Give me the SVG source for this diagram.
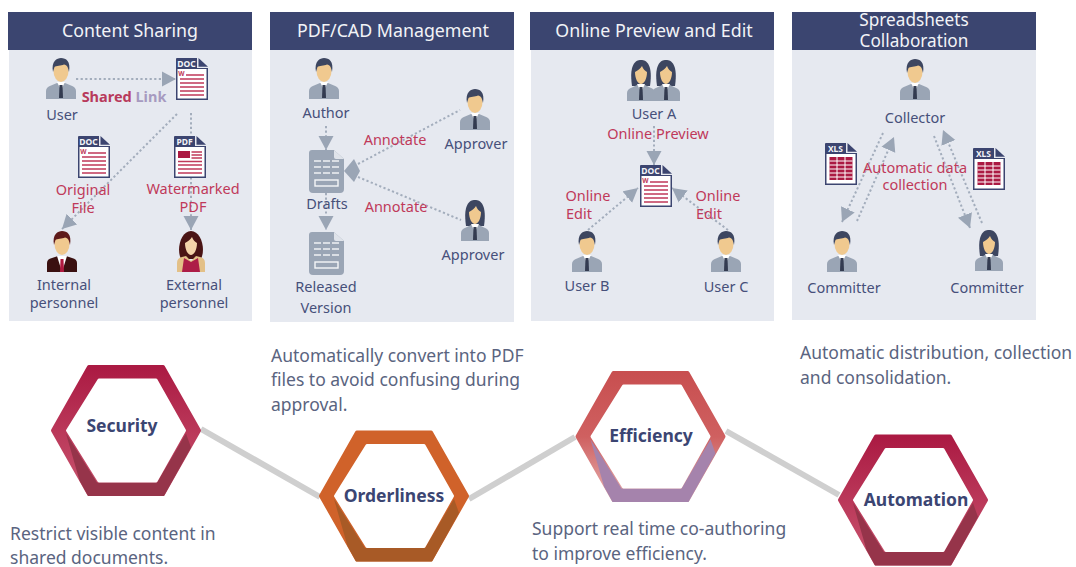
<svg xmlns="http://www.w3.org/2000/svg" width="1076" height="567" viewBox="0 0 1076 567">
<style>
text{font-family:"Noto Sans","Open Sans","Liberation Sans",sans-serif;text-anchor:middle}
.panel{fill:#e6e9f0}
.head{fill:#3b4570}
.title{fill:#f2f3f7;font-size:17.8px}
.title2{fill:#f2f3f7;font-size:17.2px}
.lab{fill:#47507a;font-size:14.5px}
.red{fill:#c0395a;font-size:14.5px}
.desc{fill:#5a6480;font-size:17.5px;text-anchor:start}
.hexlab{fill:#3b4572;font-size:17.5px;font-weight:700}
.dot{fill:none;stroke:#a3adbc;stroke-width:2;stroke-dasharray:2.2 2.4}
.link{fill:none;stroke:#cfcfcf;stroke-width:6}
.ic{font-size:8.5px;font-weight:700;fill:#f2f3f7}
.rl{stroke:#c0395a;stroke-width:1.4}
.hx{stroke-linejoin:round;stroke-width:4}
.hole{fill:#fff;stroke:#fff;stroke-width:3;stroke-linejoin:round}
</style>
<defs>
<marker id="arr" markerUnits="userSpaceOnUse" markerWidth="15" markerHeight="16" refX="14" refY="8" orient="auto"><path d="M0,0.5 L14,8 L0,15.5 Z" fill="#9aa5b5"/></marker>
<linearGradient id="gSec" x1="0" y1="0" x2="0" y2="1"><stop offset="0" stop-color="#ab1a43"/><stop offset="1" stop-color="#c9556f"/></linearGradient>
<linearGradient id="gEff" x1="0" y1="0" x2="0" y2="1"><stop offset="0" stop-color="#c84f50"/><stop offset="0.5" stop-color="#cf6060"/><stop offset="1" stop-color="#e6b0b0"/></linearGradient>
<g id="man">
<path d="M-15,41 V33 Q-15,29 -10,27.5 L-4,25 H4 L10,27.5 Q15,29 15,33 V41 Z" fill="#9aa5b5"/>
<path d="M-4,24 L0,32 L4,24 Z" fill="#fff"/>
<path d="M-1.5,27 H1.5 L2,40 H-2 Z" fill="#333b50"/>
<ellipse cx="0" cy="13" rx="7.5" ry="11" fill="#f0c98f"/>
<path d="M-8,14 C-10,3 -4,0 0,0 C5,0 10,3 8,14 C7,9 6,7 3,6.5 C0,8 -5,7.5 -6.5,9 Z" fill="#3d4660"/>
</g>
<g id="manRed">
<path d="M-15,41 V32 Q-15,28 -10,27 L-4,25 H4 L10,27 Q15,28 15,32 V41 Z" fill="#3a1010"/>
<path d="M-5,25 L0,41 L5,25 Z" fill="#fff"/>
<path d="M-1.5,28 H1.5 L2,41 H-2 Z" fill="#b0193f"/>
<ellipse cx="0" cy="13" rx="7.5" ry="11" fill="#f0c98f"/>
<path d="M-8,14 C-10,3 -4,0 0,0 C5,0 10,3 8,14 C7,9 6,7 3,6.5 C0,8 -5,7.5 -6.5,9 Z" fill="#5e1a1a"/>
</g>
<g id="woman">
<path d="M-9,26 C-12,5 -6,0 0,0 C6,0 12,5 9,26 Z" fill="#3d4660"/>
<path d="M-14,41 V33 Q-14,29 -9,27.5 L-4,25 H4 L9,27.5 Q14,29 14,33 V41 Z" fill="#9aa5b5"/>
<path d="M-4,24 L0,32 L4,24 Z" fill="#fff"/>
<path d="M-1.5,27 H1.5 L2,40 H-2 Z" fill="#333b50"/>
<path d="M-6,12 C-3,10 -1,9 1,6 C2,9 4,11 6,12 C6,19 3,24 0,24 C-3,24 -6,19 -6,12 Z" fill="#f0c98f"/>
</g>
<g id="womanRed">
<path d="M-10,28 C-15,18 -10,0 0,0 C10,0 15,18 10,28 Z" fill="#4a1414"/>
<path d="M-14,41 V32 Q-14,27 -9,26 L-5,25 L0,30 L5,25 L9,26 Q14,27 14,32 V41 Z" fill="#e3c087"/>
<path d="M-7,27 L0,31 L7,27 L9,41 H-9 Z" fill="#ad1d47"/>
<path d="M-6,12 C-3,10 -1,9 1,6 C2,9 4,11 6,12 C6,19 3,24 0,24 C-3,24 -6,19 -6,12 Z" fill="#f4d3a8"/>
</g>
<g id="docBase">
<path d="M0,1 Q0,0 1,0 H21 V10 H32 V42 H0 Z" fill="#3c4570"/>
<path d="M22.5,0 L32,8.8 H22.5 Z" fill="#3c4570"/>
<rect x="1.5" y="11" width="29" height="29.5" fill="#fff"/>
</g>
<g id="doc">
<use href="#docBase"/>
<text class="ic" x="10.5" y="8.5">DOC</text>
<text x="5.5" y="18" style="font-size:6.5px;font-weight:700;fill:#c0395a">W</text>
<path class="rl" d="M10,17 H28 M4,21 H28 M4,25 H28 M4,29 H28 M4,33 H28 M4,37 H28"/>
</g>
<g id="pdf">
<use href="#docBase"/>
<text class="ic" x="10.5" y="8.5">PDF</text>
<rect x="4" y="15" width="12" height="7" fill="#ab1a43"/>
<path class="rl" d="M17.5,16 H28 M17.5,19 H28 M17.5,22 H28 M4,25.5 H28 M4,29 H28 M4,33 H28 M4,37 H28"/>
</g>
<g id="xls">
<use href="#docBase"/>
<text class="ic" x="10.5" y="8.5">XLS</text>
<path d="M4.5,14 H27.5 V37 H4.5 Z" fill="#ab1a43"/>
<path d="M12,14 V37 M20,14 V37 M4.5,18 H27.5 M4.5,22 H27.5 M4.5,26 H27.5 M4.5,30 H27.5 M4.5,34 H27.5" stroke="#fff" stroke-width="1"/>
</g>
<g id="sheet">
<path d="M3,0 H25 L35,9 V39 Q35,43 31,43 H4 Q0,43 0,39 V3 Q0,0 3,0 Z" fill="#9aa5b5"/>
<path d="M25,0 L35,9 H27 Q25,9 25,7 Z" fill="#dfe3ea"/>
<path d="M5,11 H12 M14,11 H21 M23,11 H30 M5,17 H12 M14,17 H21 M23,17 H30 M5,23 H12 M14,23 H21 M23,23 H30" stroke="#fff" stroke-width="1.6" opacity=".85"/>
<rect x="6" y="30" width="23" height="6" fill="none" stroke="#fff" stroke-width="1.4" opacity=".9"/>
</g>
<g id="hexSec">
<path class="hx" d="M-37,-63.5 H37 L73,0 L37,63.5 H-37 L-73,0 Z" fill="url(#gSec)" stroke="url(#gSec)"/>
<path d="M-60,3 L-46.5,50 L-38,65.5 H38 L65,17 L60,3 L31,52 H-29 Z" fill="#96344a"/>
<path class="hole" d="M-27,-50.5 H30 L58.5,0 L30,50.5 H-27 L-58.5,0 Z"/>
</g>
<g id="hexOrd">
<path class="hx" d="M-37,-63.5 H37 L73,0 L37,63.5 H-37 L-73,0 Z" fill="#d0622a" stroke="#d0622a"/>
<path d="M-60,3 L-46.5,50 L-38,65.5 H38 L65,17 L60,3 L31,52 H-29 Z" fill="#a85a26"/>
<path class="hole" d="M-27,-50.5 H30 L58.5,0 L30,50.5 H-27 L-58.5,0 Z"/>
</g>
<g id="hexEff">
<path class="hx" d="M-37,-63.5 H37 L73,0 L37,63.5 H-37 L-73,0 Z" fill="url(#gEff)" stroke="url(#gEff)"/>
<path d="M-60,3 L-46.5,50 L-38,65.5 H38 L65,17 L60,3 L31,52 H-29 Z" fill="#a583ac"/>
<path class="hole" d="M-27,-50.5 H30 L58.5,0 L30,50.5 H-27 L-58.5,0 Z"/>
</g>
</defs>
<rect width="1076" height="567" fill="#fff"/>

<g id="connectors-bottom">
<path class="link" d="M201,429 L320,497"/>
<path class="link" d="M469,499 L575,437"/>
<path class="link" d="M726,431 L839,495"/>
</g>

<g id="panel-content-sharing">
<rect class="panel" x="9" y="12" width="243" height="309"/>
<rect class="head" x="8" y="12" width="244" height="38"/>
<text class="title" x="130" y="37">Content Sharing</text>
</g>
<g id="panel-pdf-cad">
<rect class="panel" x="270" y="12" width="244" height="310"/>
<rect class="head" x="270" y="12" width="244" height="38"/>
<text class="title" x="393" y="37">PDF/CAD Management</text>
</g>
<g id="panel-online">
<rect class="panel" x="531" y="12" width="243" height="309"/>
<rect class="head" x="530" y="12" width="244" height="38"/>
<text class="title" x="654" y="37">Online Preview and Edit</text>
</g>
<g id="panel-spreadsheets">
<rect class="panel" x="792" y="12" width="244" height="308"/>
<rect class="head" x="792" y="12" width="244" height="38"/>
<text class="title2" x="914" y="26">Spreadsheets</text>
<text class="title2" x="914" y="47">Collaboration</text>
</g>

<g id="connectors">
<path class="dot" marker-end="url(#arr)" d="M76,79 H176"/>
<path class="dot" marker-end="url(#arr)" d="M191,113 V230"/>
<path class="dot" marker-end="url(#arr)" d="M177,114 L62,229"/>
<path class="dot" marker-end="url(#arr)" d="M326,126 V150"/>
<path class="dot" marker-end="url(#arr)" d="M326,193 V230"/>
<path class="dot" d="M358,164 L460,110"/>
<path class="dot" d="M358,177 L461,220"/>
<path d="M344,171 L354,159 L360,171 L354,182 Z" fill="#9aa5b5"/>
<path class="dot" marker-end="url(#arr)" d="M654,126 V165"/>
<path class="dot" marker-end="url(#arr)" d="M588,230 L638,188"/>
<path class="dot" marker-end="url(#arr)" d="M728,230 L672,188"/>
<path class="dot" marker-end="url(#arr)" d="M883,133 L842,222"/>
<path class="dot" marker-end="url(#arr)" d="M857,221 L894,137"/>
<path class="dot" marker-end="url(#arr)" d="M934,136 L970,228"/>
<path class="dot" marker-end="url(#arr)" d="M982,223 L943,130"/>
</g>

<g id="node-user"><use href="#man" x="61" y="58"/><text class="lab" x="62" y="120">User</text></g>
<g id="node-doc-shared"><use href="#doc" x="176" y="58"/></g>
<g id="node-shared-link"><text x="124" y="102" style="font-size:14.5px;font-weight:700"><tspan fill="#b83a5c">Shared </tspan><tspan fill="#a79ac0">Link</tspan></text></g>
<g id="node-original"><use href="#doc" x="78" y="136"/><text class="red" x="83" y="195">Original</text><text class="red" x="83" y="213">File</text></g>
<g id="node-watermarked"><use href="#pdf" x="174" y="136"/><text class="red" x="193" y="194">Watermarked</text><text class="red" x="193" y="212">PDF</text></g>
<g id="node-internal"><use href="#manRed" x="62" y="231"/><text class="lab" x="64" y="290">Internal</text><text class="lab" x="64" y="308">personnel</text></g>
<g id="node-external"><use href="#womanRed" x="191" y="231"/><text class="lab" x="194" y="290">External</text><text class="lab" x="194" y="308">personnel</text></g>

<g id="node-author"><use href="#man" x="324" y="58"/><text class="lab" x="326" y="118">Author</text></g>
<g id="node-drafts"><use href="#sheet" x="309" y="150"/><text class="lab" x="327" y="209">Drafts</text></g>
<g id="node-released"><use href="#sheet" x="309" y="232"/><text class="lab" x="326" y="292">Released</text><text class="lab" x="326" y="313">Version</text></g>
<g id="node-approver1"><use href="#man" x="475" y="89"/><text class="lab" x="476" y="149">Approver</text></g>
<g id="node-approver2"><use href="#woman" x="475" y="200"/><text class="lab" x="473" y="260">Approver</text></g>
<g id="labels-annotate"><text class="red" x="395" y="145">Annotate</text><text class="red" x="396" y="212">Annotate</text></g>

<g id="node-user-a"><use href="#woman" x="641" y="60"/><use href="#woman" x="666" y="60"/><text class="lab" x="654" y="119">User A</text></g>
<g id="node-doc-online"><use href="#doc" x="640" y="165"/></g>
<g id="node-user-b"><use href="#man" x="587" y="231"/><text class="lab" x="587" y="291">User B</text></g>
<g id="node-user-c"><use href="#man" x="726" y="231"/><text class="lab" x="726" y="292">User C</text></g>
<g id="labels-online"><text class="red" x="658" y="139">Online Preview</text><text class="red" x="588" y="201">Online</text><text class="red" x="579" y="219">Edit</text><text class="red" x="718" y="201">Online</text><text class="red" x="709" y="219">Edit</text></g>

<g id="node-collector"><use href="#man" x="915" y="59"/><text class="lab" x="915" y="123">Collector</text></g>
<g id="node-xls1"><use href="#xls" x="825" y="143"/></g>
<g id="node-xls2"><use href="#xls" x="973" y="148"/></g>
<g id="labels-auto"><text class="red" x="915" y="173">Automatic data</text><text class="red" x="915" y="190">collection</text></g>
<g id="node-committer1"><use href="#man" x="842" y="231"/><text class="lab" x="844" y="293">Committer</text></g>
<g id="node-committer2"><use href="#woman" x="989" y="230"/><text class="lab" x="987" y="293">Committer</text></g>

<g id="node-security"><use href="#hexSec" x="126" y="430.5"/><text class="hexlab" x="122" y="432">Security</text></g>
<g id="node-orderliness"><use href="#hexOrd" x="394" y="496"/><text class="hexlab" x="394" y="502">Orderliness</text></g>
<g id="node-efficiency"><use href="#hexEff" x="650.5" y="436.5"/><text class="hexlab" x="651" y="442">Efficiency</text></g>
<g id="node-automation"><use href="#hexSec" x="913" y="500"/><text class="hexlab" x="916" y="506">Automation</text></g>

<g id="descriptions">
<text class="desc" x="271" y="362">Automatically convert into PDF</text>
<text class="desc" x="271" y="386">files to avoid confusing during</text>
<text class="desc" x="271" y="411">approval.</text>
<text class="desc" x="800" y="359">Automatic distribution, collection</text>
<text class="desc" x="800" y="384">and consolidation.</text>
<text class="desc" x="10" y="540">Restrict visible content in</text>
<text class="desc" x="10" y="564">shared documents.</text>
<text class="desc" x="532" y="535">Support real time co-authoring</text>
<text class="desc" x="532" y="560">to improve efficiency.</text>
</g>
</svg>
